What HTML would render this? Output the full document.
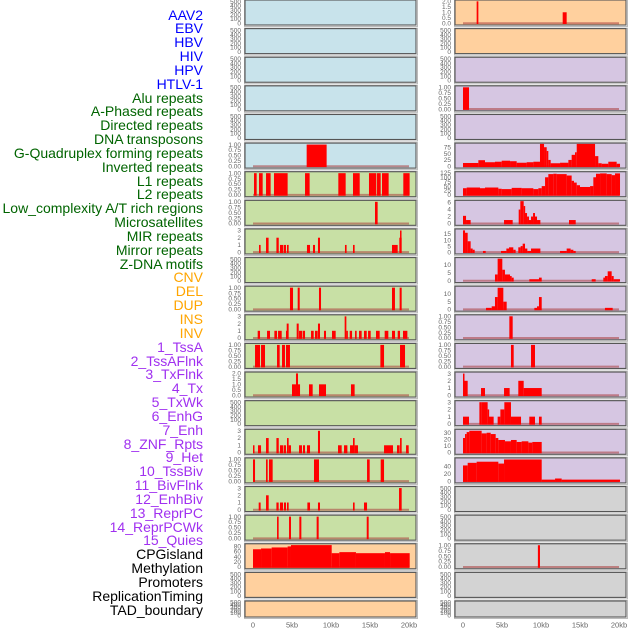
<!DOCTYPE html>
<html><head><meta charset="utf-8">
<style>
html,body{margin:0;padding:0;background:#fff;}
#wrap{position:relative;width:630px;height:630px;overflow:hidden;font-family:"Liberation Sans",sans-serif;}
.lab{position:absolute;right:427px;font-size:14px;line-height:14px;white-space:nowrap;}
svg{position:absolute;left:0;top:0;}
</style></head>
<body>
<div id="wrap">
<svg id="chart" width="630" height="630"></svg>
</div>
<script>
// ---------- labels ----------
const featureLabels = ["AAV2","EBV","HBV","HIV","HPV","HTLV-1","Alu repeats","A-Phased repeats","Directed repeats","DNA transposons","G-Quadruplex forming repeats","Inverted repeats","L1 repeats","L2 repeats","Low_complexity A/T rich regions","Microsatellites","MIR repeats","Mirror repeats","Z-DNA motifs","CNV","DEL","DUP","INS","INV","1_TssA","2_TssAFlnk","3_TxFlnk","4_Tx","5_TxWk","6_EnhG","7_Enh","8_ZNF_Rpts","9_Het","10_TssBiv","11_BivFlnk","12_EnhBiv","13_ReprPC","14_ReprPCWk","15_Quies","CPGisland","Methylation","Promoters","ReplicationTiming","TAD_boundary"];
const labelGroups = [6,13,5,15,5];
const groupColors = ["#0000ff","#006400","#ffa500","#a030f0","#000000"];
const xTickKb = [0,5,10,15,20];
const xTickLabels = ["0","5kb","10kb","15kb","20kb"];

// ---------- data: [startKb, endKb, value] ----------
const L5 = [[6.88,9.44,1]];
const L6 = [[0.13,0.47,1],[0.77,1.24,1],[1.67,2.26,1],[2.69,4.44,1],[6.67,7.26,1],[10.94,11.88,1],[12.82,13.68,1],[14.87,15.81,1],[15.9,16.37,1],[16.54,17.39,1],[19.27,20.08,1]];
const L7 = [[15.64,15.98,1]];
const L8 = [[0.77,0.98,1],[1.67,2.0,2],[3.0,3.3,2],[3.46,3.89,1],[3.97,4.23,1],[4.36,4.57,1],[6.92,7.31,1],[7.69,7.95,1],[8.33,8.59,2],[11.79,12.0,1],[12.82,13.03,1],[17.82,18.55,1],[18.76,19.06,2],[18.85,18.97,3]];
const L10 = [[4.74,5.13,1],[5.73,5.99,1],[8.46,8.72,1],[17.82,18.2,1],[18.8,19.06,1]];
const L11 = [[0.6,0.9,1],[1.8,2.18,1],[2.74,3.08,1],[3.21,3.68,1],[4.23,4.32,1],[4.32,4.57,2],[5.6,5.86,2],[5.9,6.33,1],[6.41,6.67,1],[7.44,7.78,1],[7.95,8.29,1],[8.33,8.59,2],[9.1,9.36,1],[10.13,10.6,1],[11.75,11.97,3],[11.97,12.14,1],[12.4,12.7,1],[13.08,13.29,1],[13.59,13.93,1],[14.23,14.58,1],[14.75,15.09,1],[15.77,16.24,1],[16.88,17.35,1],[17.82,18.21,1],[18.55,18.85,1],[19.23,19.79,1]];
const L12 = [[0.26,0.9,1],[1.03,1.54,1],[3.08,3.42,1],[3.72,4.1,1],[4.23,4.74,1],[16.33,16.8,1],[18.85,19.49,1]];
const L13 = [[5.0,5.51,1],[5.51,5.77,2],[5.77,6.03,1],[7.18,7.65,1],[8.46,9.36,1],[12.56,13.03,1]];
const L15 = [[0,0.13,1],[0.64,1.03,1],[1.67,2.01,2],[3.0,3.3,2],[3.46,3.89,1],[3.97,4.23,1],[4.36,4.57,2],[4.57,4.87,1],[5.9,6.28,1],[6.41,6.67,1],[6.92,7.31,1],[8.33,8.59,3],[10.9,11.37,1],[11.67,12.1,1],[12.44,12.82,1],[12.82,13.03,2],[13.03,13.46,1],[16.8,17.95,1],[18.46,18.8,1],[18.85,19.06,2],[19.62,19.96,1]];
const L16 = [[0,0.26,1],[1.67,1.88,1],[2.05,2.52,1],[7.82,8.46,1],[14.62,14.96,1],[16.37,16.8,1]];
const L17 = [[0.73,0.98,1],[1.67,2.01,2],[3.0,3.29,1],[3.46,3.85,1],[3.97,4.23,1],[4.36,4.57,1],[6.97,7.31,1],[8.33,8.59,1],[12.82,13.03,1],[14.23,14.62,1],[18.72,19.06,3]];
const L18 = [[3.08,3.29,1],[4.62,4.87,1],[5.94,6.2,1],[8.16,8.42,1],[14.58,14.83,1]];
const L19 = [[0,1.03,68],[1.03,2.39,71],[2.39,4.44,75],[4.44,4.87,79],[4.87,10.09,84],[10.09,11.07,53],[11.07,13.2,57],[13.2,16.92,53],[16.92,17.57,57],[17.57,20.09,53]];
const R0 = [[1.75,1.97,2],[12.78,13.29,1]];
const R3 = [[0,0.77,1]];
const R5 = [[0,1.97,13],[1.97,2.82,24],[2.82,4.1,16],[4.1,4.96,18],[4.96,6.03,22],[6.03,6.88,20],[6.88,8.16,14],[8.16,9.02,16],[9.02,9.87,18],[9.87,10.39,88],[10.39,10.73,75],[10.73,10.94,60],[10.94,11.24,25],[11.24,12.44,12],[12.44,13.51,14],[13.51,13.93,25],[13.93,14.36,45],[14.36,14.58,55],[14.58,16.93,88],[16.93,17.35,40],[17.35,17.78,12],[17.78,18.63,10],[18.63,19.7,18],[19.7,20.13,10]];
const R6 = [[0,0.47,38],[0.47,2.18,42],[2.18,2.82,38],[2.82,4.53,42],[4.53,4.96,35],[4.96,6.24,33],[6.24,7.52,40],[7.52,9.02,38],[9.02,9.66,33],[9.66,10.09,38],[10.09,10.52,50],[10.52,10.94,100],[10.94,11.58,118],[11.58,12.01,120],[12.01,13.29,118],[13.29,13.93,110],[13.93,14.23,80],[14.23,14.58,70],[14.58,15.0,55],[15.0,16.29,45],[16.29,16.71,50],[16.71,17.05,100],[17.05,17.57,120],[17.57,18.42,122],[18.42,19.06,118],[19.06,19.49,112],[19.49,20.13,122]];
const R7 = [[0,0.39,2.2],[0.39,0.98,1],[5.26,6.37,1],[7.14,7.35,4],[7.35,7.78,6.4],[7.78,7.95,5],[7.95,8.21,3],[8.21,8.46,2],[8.46,8.72,1],[8.72,8.98,2],[8.98,9.23,3],[9.23,9.49,2],[9.49,9.92,1],[13.59,14.45,1]];
const R8 = [[0,0.26,18],[0.26,0.6,16],[0.6,0.98,9],[0.98,1.24,3],[1.24,1.5,2],[2.56,2.91,1],[4.87,5.56,1],[5.56,5.9,3],[5.9,6.45,4],[6.45,6.75,2],[7.09,7.39,4],[7.39,7.65,5],[7.65,7.95,7],[7.95,8.25,3],[8.25,8.72,1],[8.72,9.23,3],[9.23,9.92,3],[12.44,13.29,1],[13.29,13.8,3],[13.8,14.15,2],[14.15,14.45,1]];
const R9 = [[4.1,4.44,4],[4.44,5.04,14],[5.04,5.38,7],[5.38,6.03,4],[6.03,6.24,3],[6.24,6.5,2],[8.5,9.74,1],[9.74,10.09,2],[16.5,17.01,1],[17.99,18.2,2],[18.2,18.55,3],[18.55,19.06,6],[19.06,19.32,3],[19.32,20.13,1]];
const R10 = [[2.95,3.68,1],[3.68,4.1,2],[4.1,4.44,8],[4.44,5.17,14],[5.17,5.6,5],[9.15,9.49,1],[9.49,9.74,2],[9.74,10.09,8],[18.2,19.19,1]];
const R11 = [[5.94,6.37,1]];
const R12 = [[6.15,6.5,1],[8.72,9.23,1]];
const R13 = [[0,0.09,3],[0.09,0.6,2],[2.31,2.82,1],[5.26,5.98,1],[7.09,7.78,2],[7.78,10.09,1]];
const R14 = [[0,0.77,1],[2.1,2.39,3],[2.39,3.16,3],[3.16,3.33,2],[3.33,3.93,1],[4.44,4.79,1],[4.79,5.3,2],[5.3,6.15,3],[6.15,7.44,1],[8.5,9.23,1],[9.74,10.09,1]];
const R15 = [[0,0.26,22],[0.26,0.47,28],[0.47,0.81,31],[0.81,2.39,33],[2.39,3.03,29],[3.03,3.55,30],[3.55,4.19,28],[4.19,4.53,22],[4.53,5.38,19],[5.38,6.15,17],[6.15,6.88,19],[6.88,7.52,16],[7.52,8.38,17],[8.38,8.89,15],[8.89,10.09,16]];
const R16 = [[0,0.6,42],[0.6,1.75,49],[1.75,4.53,52],[4.53,5.26,47],[5.26,10.09,58],[10.09,11.8,4],[11.8,12.65,7],[12.65,20.13,4]];
const R19 = [[9.6,9.87,1]];
const EMPTY = [];

// ---------- axis configs ----------
const T500 = [0,100,200,300,400,500];
const T1 = [0,0.25,0.5,0.75,1.0];
const T3 = [0,1,2,3];
const BG = {blue:"#c8e3eb",green:"#c8e0a5",orange:"#ffd09e",purple:"#d6c6e2",gray:"#d3d3d3"};

function fmt(t,ticks){
  if(ticks===T1) return t.toFixed(2);
  if(ticks.some(v=>v%1!==0)) return t.toFixed(1);
  return String(t);
}
const leftCol = [
 ["blue",EMPTY,520,T500],["blue",EMPTY,520,T500],["blue",EMPTY,520,T500],["blue",EMPTY,520,T500],["blue",EMPTY,520,T500],
 ["blue",L5,1.03,T1],["green",L6,1.03,T1],["green",L7,1.03,T1],["green",L8,3.1,T3],["green",EMPTY,520,T500],
 ["green",L10,1.03,T1],["green",L11,3.1,T3],["green",L12,1.03,T1],["green",L13,2.05,[0,0.5,1.0,1.5,2.0]],["green",EMPTY,520,T500],
 ["green",L15,3.1,T3],["green",L16,1.03,T1],["green",L17,3.1,T3],["green",L18,1.03,T1],["orange",L19,86,[0,20,40,60,80]],
 ["orange",EMPTY,520,T500],["orange",EMPTY,520,T500]
];
const rightCol = [
 ["orange",R0,2.05,[0,0.5,1.0,1.5,2.0]],["orange",EMPTY,520,T500],["purple",EMPTY,520,T500],["purple",R3,1.03,T1],["purple",EMPTY,520,T500],
 ["purple",R5,88,[0,25,50,75]],["purple",R6,127,[0,25,50,75,100,125]],["purple",R7,6.4,[0,2,4,6]],["purple",R8,18.5,[0,5,10,15]],["purple",R9,14.2,[0,5,10]],
 ["purple",R10,14.5,[0,5,10]],["purple",R11,1.03,T1],["purple",R12,1.03,T1],["purple",R13,3.1,T3],["purple",R14,3.1,T3],
 ["purple",R15,34,[0,10,20,30]],["purple",R16,60,[0,20,40]],["gray",EMPTY,520,T500],["gray",EMPTY,520,T500],["gray",R19,1.03,T1],
 ["gray",EMPTY,520,T500],["gray",EMPTY,520,T500]
];

const NS="http://www.w3.org/2000/svg";
const svg=document.getElementById("chart");
const wrap=document.getElementById("wrap");
function mk(tag,attrs,parent){const e=document.createElementNS(NS,tag);for(const k in attrs)e.setAttribute(k,attrs[k]);(parent||svg).appendChild(e);return e;}

// labels
let gi=0,cnt=0;
featureLabels.forEach((t,i)=>{
  while(cnt>=labelGroups[gi]){cnt-=labelGroups[gi];gi++;}
  cnt++;
  const d=document.createElement("div");
  d.className="lab";
  d.style.top=(15+i*13.84-7.5)+"px";
  d.style.color=groupColors[gi];
  d.textContent=t;
  
  
  wrap.appendChild(d);
});

function rowTop(r){return r*28.62;}
function rowH(r){return r===21?16:25;}

function drawPanel(cfg,r,colX,side){
  const [bg,data,ymax,ticks]=cfg;
  const top=rowTop(r), h=rowH(r), w=171;
  const g=mk("g",{});
  
  
  mk("rect",{x:colX-0.5,y:top-0.5,width:w+2,height:h+2,fill:"none",stroke:"#bbb","stroke-width":1},g);
  mk("rect",{x:colX,y:top,width:w,height:h,fill:BG[bg],stroke:"#555","stroke-width":1.1},g);
  const zeroY=top+h-1.8, topY=top+0.8;
  const ys=v=>zeroY-v/ymax*(zeroY-topY);
  const xs=kb=>colX+8+kb*7.8;
  // ticks
  ticks.forEach(t=>{
    const tx=mk("text",{x:colX-4,y:ys(t)+2.2,"text-anchor":"end","font-size":"6.5px",fill:"#666","font-family":"Liberation Sans, sans-serif"},g);
    tx.textContent=fmt(t,ticks);
    
    
  });
  // baseline
  if(data.length){
    const bl=mk("line",{x1:xs(0),x2:xs(20),y1:zeroY,y2:zeroY,stroke:"rgba(170,60,60,0.55)","stroke-width":2},g);
    
    
  }
  data.forEach(([a,b,v])=>{
    const x0=xs(a),x1=xs(b);
    const yt=Math.max(top+0.6,ys(v));
    const rc=mk("rect",{x:x0,y:yt,width:Math.max(1.5,x1-x0),height:zeroY+0.8-yt,fill:"#ff0000"},g);
    
    
  });
}
leftCol.forEach((c,r)=>drawPanel(c,r,245,"left"));
rightCol.forEach((c,r)=>drawPanel(c,r,455,"right"));

// x axes
[253,463].forEach(x0=>{
  xTickKb.forEach((k,i)=>{
    const t=mk("text",{x:x0+k*7.8,y:627.5,"text-anchor":"middle","font-size":"7.5px",fill:"#666","font-family":"Liberation Sans, sans-serif"});
    t.textContent=xTickLabels[i];
    
    
  });
});
</script>
</body></html>
